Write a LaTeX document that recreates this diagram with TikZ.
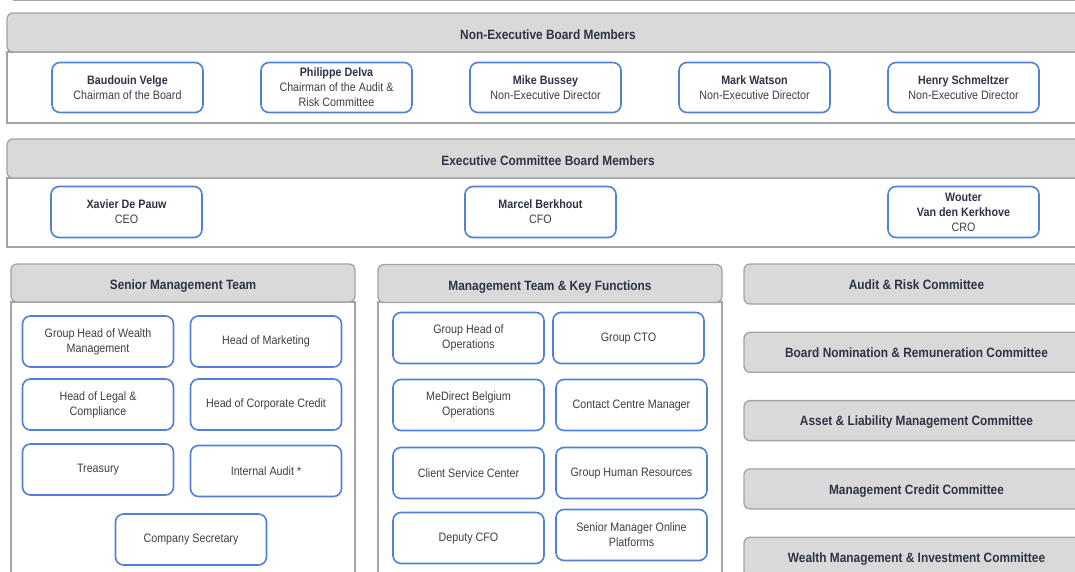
\documentclass[tikz,border=0pt]{standalone}
\usepackage{fontspec}
\setmainfont{Liberation Sans}[FakeStretch=0.88]
\usepackage{xcolor}
\definecolor{framegray}{HTML}{A3A3A3}
\definecolor{headfill}{HTML}{D9D9D9}
\definecolor{boxblue}{HTML}{5080D8}
\definecolor{textnavy}{HTML}{2E3447}
\definecolor{textdark}{HTML}{3E3F48}
\usetikzlibrary{positioning}
\newcommand{\pname}[1]{{\bfseries\color{textnavy}#1}}

\begin{document}
\begin{tikzpicture}[
        x=1pt, y=-1pt,
        font=\fontsize{12.2}{15}\selectfont,
        head_node/.style={
            rectangle,
            rounded corners=6pt,
            draw=framegray,
            fill=headfill,
            line width=1.3pt,
            align=center,
            minimum height=39pt,
            text height=13.5pt, text depth=0pt,
            font=\bfseries\fontsize{13.5}{16}\selectfont, text=textnavy
        },
        comm_node/.style={
            head_node,
            minimum width=345pt,
            minimum height=40pt,
            text height=10.5pt
        },
        panel/.style={
            draw=framegray,
            fill=white,
            line width=1.3pt
        },
        member_node/.style={
            rectangle,
            rounded corners=8pt,
            draw=boxblue,
            fill=white,
            line width=1.6pt,
            align=center,
            outer sep=0pt,
            minimum width=151pt,
            minimum height=51pt,
            text=textdark
        }
    ]

    \useasboundingbox (0,0) rectangle (1075,571);
    \clip (0,0) rectangle (1075,571);

    % edge of the section above
    \draw[framegray, line width=1.3pt] (13,0.6) -- (1089,0.6);

    % Non-Executive Board (Top)
    \draw[panel] (7,52) rectangle (1089,123);
    \node[head_node, minimum width=1082pt] (nonexec) at (548,32.5) {Non-Executive Board Members};

    \node[member_node, minimum height=50pt] (velge) at (127.5,87.5) {\pname{Baudouin Velge}\\Chairman of the Board};
    \node[member_node, minimum height=50pt, right=58pt of velge] (delva) {\pname{Philippe Delva}\\Chairman of the Audit \&\\Risk Committee};
    \node[member_node, minimum height=50pt, right=58pt of delva] (bussey) {\pname{Mike Bussey}\\Non-Executive Director};
    \node[member_node, minimum height=50pt, right=58pt of bussey] (watson) {\pname{Mark Watson}\\Non-Executive Director};
    \node[member_node, minimum height=50pt, right=58pt of watson] (schmeltzer) {\pname{Henry Schmeltzer}\\Non-Executive Director};

    % Executive Committee (Middle)
    \draw[panel] (7,178) rectangle (1089,247);
    \node[head_node, minimum width=1082pt] (execcom) at (548,158.5) {Executive Committee Board Members};

    \node[member_node] (ceo) at (126.5,212) {\pname{Xavier De Pauw}\\CEO};
    \node[member_node, right=263pt of ceo] (cfo) {\pname{Marcel Berkhout}\\CFO};
    \node[member_node, right=272pt of cfo] (cro) {\pname{Wouter}\\\pname{Van den Kerkhove}\\CRO};

    % Senior Management Team (Bottom left)
    \draw[panel] (11,302) rectangle (355,600);
    \node[head_node, minimum width=344pt, minimum height=38pt] (senior) at (183,283) {Senior Management Team};

    \node[member_node] (wealth) at (98,341.5) {Group Head of Wealth\\Management};
    \node[member_node, right=17pt of wealth] (marketing) {Head of Marketing};
    \node[member_node, below=12pt of wealth] (legal) {Head of Legal \&\\Compliance};
    \node[member_node, right=17pt of legal] (corpcredit) {Head of Corporate Credit};
    \node[member_node, below=14pt of legal] (treasury) {Treasury};
    \node[member_node, right=17pt of treasury, yshift=-1.5pt] (intaudit) {Internal Audit *};
    \node[member_node, below=19pt of treasury, xshift=93pt] (secretary) {Company Secretary};

    % Management Team & Key Functions (Bottom middle)
    \draw[panel] (378,302) rectangle (722,600);
    \node[head_node, minimum width=344pt, minimum height=38pt] (mgmt) at (550,283.5) {Management Team \& Key Functions};

    \node[member_node] (operations) at (468.5,338) {Group Head of\\Operations};
    \node[member_node, right=9pt of operations] (cto) {Group CTO};
    \node[member_node, below=16pt of operations] (belgium) {MeDirect Belgium\\Operations};
    \node[member_node, right=12pt of belgium] (contact) {Contact Centre Manager};
    \node[member_node, below=17pt of belgium] (clientsc) {Client Service Center};
    \node[member_node, right=12pt of clientsc] (humanres) {Group Human Resources};
    \node[member_node, below=14pt of clientsc] (deputy) {Deputy CFO};
    \node[member_node, right=12pt of deputy, yshift=3pt] (online) {Senior Manager Online\\Platforms};

    % Committees (Bottom right)
    \node[comm_node] (arc) at (916.5,284) {Audit \& Risk Committee};
    \node[comm_node, below=27pt of arc] (nomination) {Board Nomination \& Remuneration Committee};
    \node[comm_node, below=27pt of nomination] (alco) {Asset \& Liability Management Committee};
    \node[comm_node, below=27pt of alco] (credit) {Management Credit Committee};
    \node[comm_node, below=27pt of credit] (wmic) {Wealth Management \& Investment Committee};

\end{tikzpicture}
\end{document}
